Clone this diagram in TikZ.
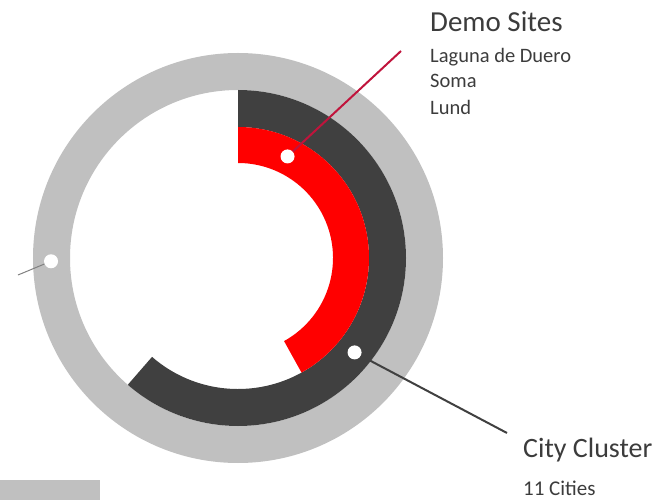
\documentclass[tikz,border=0pt]{standalone}
\usepackage{fontspec}
\setmainfont{Carlito}
\usepackage{tikz}

\definecolor{ringgray}{HTML}{C0C0C0}
\definecolor{ringdark}{HTML}{404040}
\definecolor{ringred}{HTML}{FF0000}
\definecolor{linered}{HTML}{C0143C}
\definecolor{textgray}{HTML}{3C3C3C}

\tikzset{
  dot/.style = {circle, fill = white, inner sep = 0pt, minimum size = 14pt},
  title/.style = {anchor = base west, text = textgray, font = \fontsize{29}{34}\selectfont, inner sep = 0pt},
  sub/.style = {anchor = base west, text = textgray, font = \fontsize{20.5}{24}\selectfont, inner sep = 0pt}
}

\begin{document}
\begin{tikzpicture}[x = 1pt, y = 1pt]
\useasboundingbox (-238,-242) rectangle (428,258);
	\fill [ringgray, even odd rule] (0,0) circle [radius = 205pt] (0,0) circle [radius = 168pt];
	\fill [ringdark] (90:168pt) arc [start angle = 90, end angle = -131, radius = 168pt] -- (-131:131pt) arc [start angle = -131, end angle = 90, radius = 131pt] -- cycle;
	\fill [ringred] (90:131pt) arc [start angle = 90, end angle = -61, radius = 131pt] -- (-61:95pt) arc [start angle = -61, end angle = 90, radius = 95pt] -- cycle;
	\fill [ringgray] (-238,-222) rectangle (-138,-242);
	\node [dot] (demo) at (64:113pt) {};
	\node [dot] (city) at (-39:150pt) {};
	\node [dot] (other) at (181:187pt) {};
	\coordinate (demoend) at (163,207);
	\coordinate (cityend) at (269,-175);
	\coordinate (otherend) at (-220,-17);
	\draw [linered, line width = 2pt] (demo) -- (demoend);
	\draw [ringdark, line width = 2pt] (city) -- (cityend);
	\draw [gray, line width = 1pt] (other) -- (otherend);
	\node [title] (demotitle) at (192,226) {Demo Sites};
	\node [sub] (laguna) at (192,195) {Laguna de Duero};
	\node [sub] (soma) at (192,170) {Soma};
	\node [sub] (lund) at (192,143) {Lund};
	\node [title, font = \fontsize{28}{33}\selectfont] (citytitle) at (285,-199) {City Cluster};
	\node [sub, font = \fontsize{21}{25}\selectfont] (cities) at (285,-237) {11 Cities};
\end{tikzpicture}
\end{document}
